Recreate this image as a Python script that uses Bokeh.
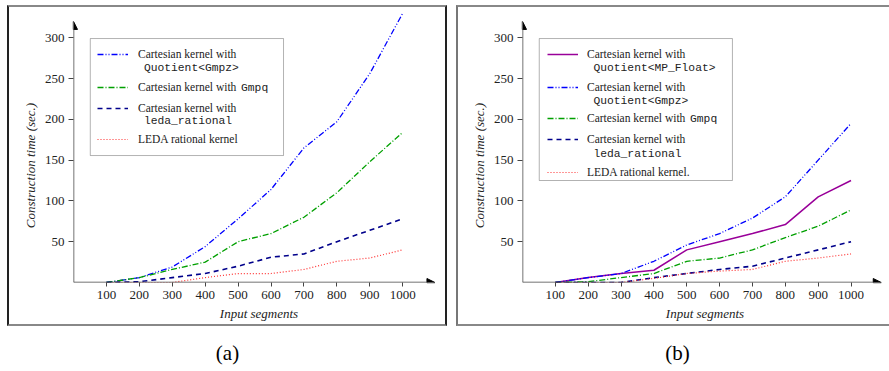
import math
from bokeh.plotting import figure
from bokeh.models import (Range1d, FixedTicker, Arrow, NormalHead, Legend, LegendItem,
                          Label, BoxAnnotation, Div)
from bokeh.layouts import row, column
from bokeh.embed import file_html
from bokeh.resources import INLINE

# ---------------- data ----------------
segments = [100, 200, 300, 400, 500, 600, 700, 800, 900, 1000]

# panel (a)
a_gmpz = [0, 6, 19, 44, 78, 114, 165, 197, 256, 330]
a_gmpq = [0, 6, 16, 25, 50, 60, 80, 110, 148, 184]
a_leda_rational = [0, 1, 6, 11, 20, 31, 35, 50, 64, 78]
a_leda_kernel = [0, 0, 0, 6, 11, 11, 16, 26, 30, 40]

# panel (b)
b_mpfloat = [0, 6, 11, 15, 40, 50, 60, 71, 105, 125]
b_gmpz = [0, 6, 11, 26, 46, 60, 79, 105, 150, 195]
b_gmpq = [0, 1, 6, 11, 26, 30, 40, 55, 69, 89]
b_leda_rational = [0, 0, 0, 6, 11, 16, 20, 30, 40, 50]
b_leda_kernel = [0, 0, 0, 5, 11, 14, 16, 26, 30, 35]

x_ticks = [100, 200, 300, 400, 500, 600, 700, 800, 900, 1000]
y_ticks = [50, 100, 150, 200, 250, 300]

SERIF = "Liberation Serif"
MONO = "Liberation Mono"
TXT = "#222222"

STYLES = {
    "mpfloat": dict(line_color="#990099", line_width=1.5, line_dash="solid"),
    "gmpz": dict(line_color="#0000ff", line_width=1.3, line_dash="6 2 1 2 1 2"),
    "gmpq": dict(line_color="#00a000", line_width=1.3, line_dash="6 2 1 2"),
    "leda_rational": dict(line_color="#00008b", line_width=1.6, line_dash="5 4"),
    "leda_kernel": dict(line_color="#ff3030", line_width=1.2, line_dash="1 2"),
}

Y_END = 334.6
FRAME_H = 273


def make_panel(width, border_lr, frame_w, x_end, arrow_x, series, legend_rows, box,
               mono_labels, border_styles):
    canvas_w = width - border_lr
    p = figure(width=width, height=FRAME_H + 48, x_range=Range1d(0, x_end),
               y_range=Range1d(0, Y_END),
               output_backend="svg", toolbar_location=None,
               min_border_left=64, min_border_right=canvas_w - 64 - frame_w,
               min_border_top=2, min_border_bottom=46)
    p.outline_line_color = None
    p.xgrid.visible = False
    p.ygrid.visible = False
    p.background_fill_color = "white"
    p.border_fill_color = "white"
    p.styles = border_styles

    for ax in (p.xaxis[0], p.yaxis[0]):
        ax.axis_line_color = None
        ax.major_tick_line_color = "#444444"
        ax.major_tick_line_width = 1
        ax.minor_tick_line_color = None
        ax.major_tick_in = 0
        ax.major_label_text_font = SERIF
        ax.major_label_text_font_size = "13px"
        ax.major_label_text_color = TXT
        ax.axis_label_text_font = SERIF
        ax.axis_label_text_font_style = "italic"
        ax.axis_label_text_font_size = "13px"
        ax.axis_label_text_color = TXT
        ax.axis_label_standoff = 4
    p.xaxis.ticker = FixedTicker(ticks=x_ticks)
    p.yaxis.ticker = FixedTicker(ticks=y_ticks)
    p.xaxis.major_tick_out = 4
    p.yaxis.major_tick_out = 5
    p.xaxis.major_label_standoff = 4
    p.yaxis.major_label_standoff = 4
    p.xaxis.axis_label = "Input segments"
    # trailing no-break spaces shift the centred label toward the bottom as in the original
    p.yaxis.axis_label = "Construction time (sec.)" + "\u00a0" * 12

    # axes with arrow heads
    p.add_layout(Arrow(end=NormalHead(size=8, fill_color="black", line_color="black"),
                       x_start=0, y_start=0, x_end=0, y_end=320,
                       line_color="#444444", line_width=1.5))
    p.add_layout(Arrow(end=NormalHead(size=8, fill_color="black", line_color="black"),
                       x_start=0, y_start=0, x_end=arrow_x, y_end=0,
                       line_color="#444444", line_width=1.5))

    renderers = {}
    for key, ys in series:
        renderers[key] = p.line(segments, ys, **STYLES[key])

    # legend frame
    p.add_layout(BoxAnnotation(left=box[0], right=box[1], top=box[2], bottom=box[3],
                               fill_color="white", fill_alpha=1.0, line_color="black",
                               line_width=1, level="annotation"))
    for key, text, vx, vy, standoff in legend_rows:
        lg = Legend(items=[LegendItem(label=text, renderers=[renderers[key]])],
                    location=(vx, vy), margin=0, padding=0, spacing=0,
                    border_line_color=None, background_fill_alpha=0,
                    glyph_width=31, glyph_height=14, label_height=14,
                    label_standoff=standoff, label_text_font=SERIF,
                    label_text_font_size="11.5px", label_text_color=TXT,
                    label_text_baseline="middle")
        p.add_layout(lg)
    for text, lx, ly in mono_labels:
        p.add_layout(Label(x=lx, y=ly, text=text, text_font=MONO, text_font_size="11.3px",
                           text_color=TXT, text_baseline="middle", text_align="left"))
    return p


border_a = {"border-left": "2px solid #222222", "border-right": "2px solid #222222",
            "border-top": "2px solid #888888", "border-bottom": "2px solid #888888"}
border_b = {"border-left": "2px solid #777777", "border-right": "0px solid #777777",
            "border-top": "2px solid #888888", "border-bottom": "2px solid #888888"}

pa = make_panel(
    440, 4, 367, 1127, 1098,
    [("gmpz", a_gmpz), ("gmpq", a_gmpq), ("leda_rational", a_leda_rational),
     ("leda_kernel", a_leda_kernel)],
    [("gmpz", "Cartesian kernel with", 24, 221, 10),
     ("gmpq", "Cartesian kernel with", 24, 188, 10),
     ("leda_rational", "Cartesian kernel with", 24, 167, 10),
     ("leda_kernel", "LEDA rational kernel", 24, 136, 10)],
    (51, 638, 299, 155.6),
    [("Quotient<Gmpz>", 214, 263.5), ("Gmpq", 509, 239), ("leda_rational", 214, 198)],
    border_a)

pb = make_panel(
    433, 2, 363, 1111, 1092,
    [("mpfloat", b_mpfloat), ("gmpz", b_gmpz), ("gmpq", b_gmpq),
     ("leda_rational", b_leda_rational), ("leda_kernel", b_leda_kernel)],
    [("mpfloat", "Cartesian kernel with", 25, 221, 9),
     ("gmpz", "Cartesian kernel with", 25, 188, 9),
     ("gmpq", "Cartesian kernel with", 25, 157, 9),
     ("leda_rational", "Cartesian kernel with", 25, 136, 9),
     ("leda_kernel", "LEDA rational kernel.", 25, 103, 9)],
    (51, 639, 299, 125),
    [("Quotient<MP_Float>", 216, 263.5), ("Quotient<Gmpz>", 216, 223), ("Gmpq", 510, 201),
     ("leda_rational", 216, 158)],
    border_b)


def caption(t, w, shift):
    return Div(text=('<div style="text-align:center;font-family:\'Liberation Serif\';'
                     'font-size:21px;line-height:21px;padding-top:17px;padding-left:%dpx;'
                     'box-sizing:border-box;width:%dpx">%s</div>' % (shift, w, t)),
               width=w, height=38, margin=0)


layout = row(column(pa, caption("(a)", 440, 1)), column(pb, caption("(b)", 433, 10)), spacing=9,
             styles={"margin-top": "5px", "margin-left": "7px"})

open("out.html", "w").write(file_html(layout, INLINE))
